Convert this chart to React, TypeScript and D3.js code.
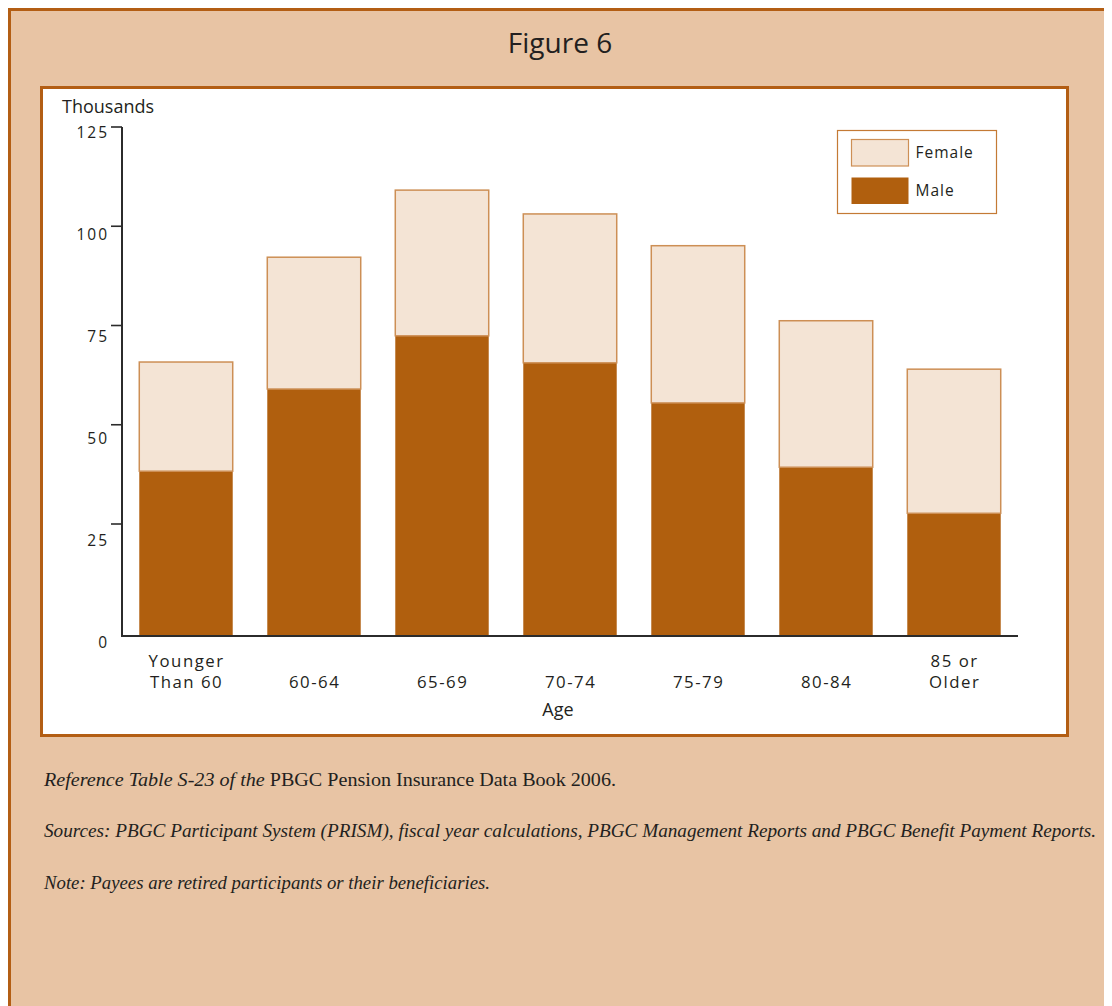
import React from "react";
import * as d3 from "d3";

const categories = ["Younger Than 60", "60-64", "65-69", "70-74", "75-79", "80-84", "85 or Older"];
const categoryLines = [["Younger", "Than 60"], ["60-64"], ["65-69"], ["70-74"], ["75-79"], ["80-84"], ["85 or", "Older"]];
const male = [38.3, 59.0, 72.4, 65.6, 55.5, 39.3, 27.7];
const female = [27.5, 33.2, 36.7, 37.5, 39.6, 36.9, 36.3];
const yTicks = [0, 25, 50, 75, 100, 125];
const seriesKeys = ["male", "female"];
const legendItems = [
  { key: "female", label: "Female" },
  { key: "male", label: "Male" },
];

const TAN = "#e8c4a4";
const BORDER = "#b35e14";
const MALE = "#b05f0e";
const FEMALE = "#f4e4d5";
const FEMALE_STROKE = "#cd8f55";
const TEXT = "#231f20";
const SANS = "'Open Sans', 'Noto Sans', sans-serif";
const SERIF = "'Liberation Serif', 'DejaVu Serif', serif";

export default function App() {
  const rows = categories.map((c, i) => ({ cat: c, male: male[i], female: female[i] }));
  const stacked = d3.stack<any>().keys(seriesKeys)(rows);

  const x = d3
    .scaleBand<string>()
    .domain(categories)
    .range([122, 1018])
    .paddingInner(0.27)
    .paddingOuter(0.135);
  // axis tick positions of the original figure
  const y = d3.scaleLinear().domain([0, 25, 125]).range([636, 524, 127]);
  const yLabel = d3.scaleLinear().domain([0, 125]).range([643, 133]);

  const color: Record<string, string> = { male: MALE, female: FEMALE };

  return (
    <svg width={1104} height={998} style={{ display: "block" }}>
      <g transform="translate(-8,-8)">
        {/* outer frame */}
        <rect x={9.5} y={9.5} width={1120} height={1020} fill={TAN} stroke={BORDER} strokeWidth={3} />
        <text x={560} y={53} textAnchor="middle" fontFamily={SANS} fontSize={28} fill={TEXT}>
          Figure 6
        </text>
        {/* inner panel */}
        <rect x={41.5} y={87.5} width={1026} height={648} fill="#ffffff" stroke={BORDER} strokeWidth={3} />

        <text x={62} y={113} fontFamily={SANS} fontSize={18} fill={TEXT}>
          Thousands
        </text>

        {/* bars */}
        {stacked.map((s) => (
          <g key={s.key}>
            {s.map((d, i) => (
              <rect
                key={i}
                x={x(categories[i])!}
                y={y(d[1])}
                width={x.bandwidth()}
                height={y(d[0]) - y(d[1])}
                fill={color[s.key]}
                stroke={s.key === "female" ? FEMALE_STROKE : "none"}
                strokeWidth={s.key === "female" ? 1.5 : 0}
              />
            ))}
          </g>
        ))}

        {/* y axis */}
        <line x1={122} x2={122} y1={y(125)} y2={y(0)} stroke="#2b2b2b" strokeWidth={2} />
        {yTicks
          .filter((t) => t > 0)
          .map((t) => (
            <line key={t} x1={111} x2={122} y1={y(t)} y2={y(t)} stroke="#2b2b2b" strokeWidth={1.6} />
          ))}
        {yTicks.map((t) => (
          <text
            key={t}
            x={109}
            y={yLabel(t)}
            dy="0.35em"
            textAnchor="end"
            fontFamily={SANS}
            fontSize={15.5}
            letterSpacing={2}
            fill={TEXT}
          >
            {t}
          </text>
        ))}

        {/* x axis */}
        <line x1={121} x2={1018} y1={y(0)} y2={y(0)} stroke="#2b2b2b" strokeWidth={2} />
        {categories.map((c, i) => {
          const lines = categoryLines[i];
          const cx = x(c)! + x.bandwidth() / 2;
          return (
            <g key={c}>
              {lines.map((ln, j) => (
                <text
                  key={j}
                  x={cx + 0.6}
                  y={688 - (lines.length - 1 - j) * 21.5}
                  textAnchor="middle"
                  fontFamily={SANS}
                  fontSize={16.8}
                  letterSpacing={1.5}
                  fill={TEXT}
                >
                  {ln}
                </text>
              ))}
            </g>
          );
        })}
        <text x={558} y={716} textAnchor="middle" fontFamily={SANS} fontSize={18} fill={TEXT}>
          Age
        </text>

        {/* legend */}
        <rect x={837.5} y={130.5} width={159} height={83} fill="#ffffff" stroke="#c47a35" strokeWidth={1.2} />
        {legendItems.map((it, i) => (
          <g key={it.key}>
            <rect
              x={851.5}
              y={139.5 + i * 38}
              width={57}
              height={26.5}
              fill={color[it.key]}
              stroke={it.key === "female" ? FEMALE_STROKE : "none"}
              strokeWidth={1.2}
            />
            <text
              x={915.5}
              y={152.7 + i * 38}
              dy="0.35em"
              fontFamily={SANS}
              fontSize={15.5}
              letterSpacing={1}
              fill={TEXT}
            >
              {it.label}
            </text>
          </g>
        ))}

        {/* notes */}
        <text x={44} y={786} fontFamily={SERIF} fontSize={19.4} fill={TEXT} textLength={572} lengthAdjust="spacingAndGlyphs">
          <tspan fontStyle="italic">Reference Table S-23 of the</tspan>
          <tspan> PBGC Pension Insurance Data Book 2006.</tspan>
        </text>
        <text x={44} y={837} fontFamily={SERIF} fontSize={19.2} fontStyle="italic" fill={TEXT} textLength={1052} lengthAdjust="spacingAndGlyphs">
          Sources: PBGC Participant System (PRISM), fiscal year calculations, PBGC Management Reports and PBGC Benefit Payment Reports.
        </text>
        <text x={44} y={889} fontFamily={SERIF} fontSize={19.4} fontStyle="italic" fill={TEXT} textLength={446} lengthAdjust="spacingAndGlyphs">
          Note: Payees are retired participants or their beneficiaries.
        </text>
      </g>
    </svg>
  );
}
